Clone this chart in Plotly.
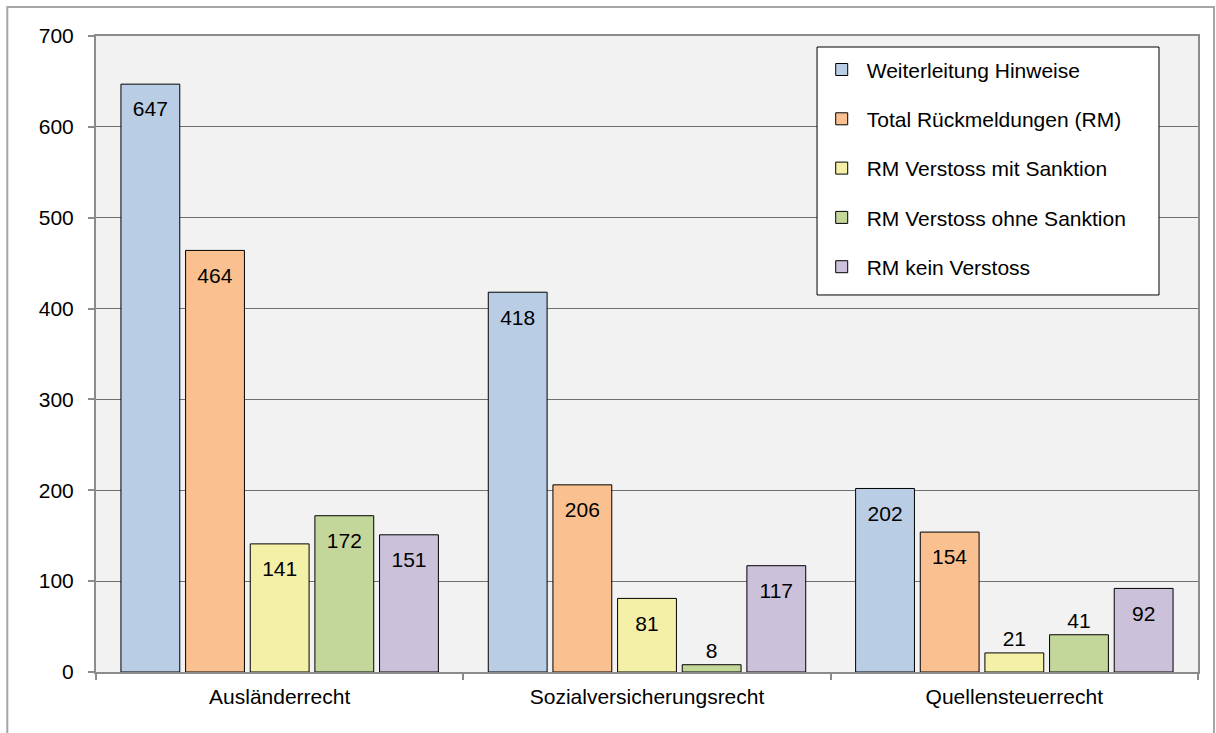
import plotly.graph_objects as go

categories = ["Ausländerrecht", "Sozialversicherungsrecht", "Quellensteuerrecht"]
series_names = ["Weiterleitung Hinweise", "Total Rückmeldungen (RM)", "RM Verstoss mit Sanktion",
                "RM Verstoss ohne Sanktion", "RM kein Verstoss"]
weiterleitung = [647, 418, 202]
total_rm = [464, 206, 154]
mit_sanktion = [141, 81, 21]
ohne_sanktion = [172, 8, 41]
kein_verstoss = [151, 117, 92]
colors = ["#B9CDE5", "#FAC090", "#F5F0A8", "#C4D79B", "#CCC1DA"]
y_ticks = [0, 100, 200, 300, 400, 500, 600, 700]

all_values = [weiterleitung, total_rm, mit_sanktion, ohne_sanktion, kein_verstoss]
FONT = "Arial, Liberation Sans"
FS = 21

fig = go.Figure()
for i, (name, vals, col) in enumerate(zip(series_names, all_values, colors)):
    positions = ["inside" if v >= 60 else "outside" for v in vals]
    texts = [("<span style='font-size:2px'> </span><br>" + str(v)) if v >= 60 else str(v) for v in vals]
    fig.add_trace(go.Bar(
        x=categories, y=vals, name=name,
        marker=dict(color=col, line=dict(color="#000000", width=1)),
        text=texts, textposition=positions,
        insidetextanchor="end",
        textfont=dict(family=FONT, size=FS, color="#000000"),
        constraintext="none",
        cliponaxis=False,
        legendgroup=f"g{i}",
        hoverinfo="skip",
    ))

fig.update_layout(
    width=1216, height=733,
    margin=dict(l=96, r=18, t=36, b=61),
    paper_bgcolor="#FFFFFF",
    plot_bgcolor="#F2F2F2",
    barmode="group",
    bargap=0.12,
    bargroupgap=0.09,
    font=dict(family=FONT, size=FS, color="#000000"),
    showlegend=True,
    legend=dict(
        x=0.654, y=0.979, xanchor="left", yanchor="top",
        bgcolor="rgba(0,0,0,0)", borderwidth=0,
        font=dict(family=FONT, size=FS, color="#000000"),
        tracegroupgap=19,
        itemwidth=40,
    ),
    shapes=[
        dict(type="rect", xref="paper", yref="paper",
             x0=-0.0805, x1=1.0145, y0=-0.2, y1=1.0456,
             line=dict(color="#A6A6A6", width=2), fillcolor="rgba(0,0,0,0)", layer="below"),
        dict(type="rect", xref="paper", yref="paper",
             x0=0.6543, x1=0.9646, y0=0.5928, y1=0.9827,
             line=dict(color="#000000", width=1), fillcolor="#FFFFFF", layer="above"),
    ],
)
fig.update_xaxes(
    showline=True, linecolor="#8C8C8C", linewidth=2, mirror=True,
    ticks="outside", tickson="boundaries", ticklen=6, tickcolor="#8C8C8C", tickwidth=2,
    showgrid=False,
    ticklabelstandoff=5,
    tickfont=dict(family=FONT, size=FS, color="#000000"),
)
fig.update_yaxes(
    range=[0, 700], tickvals=y_ticks,
    showline=True, linecolor="#8C8C8C", linewidth=2, mirror=True,
    ticks="outside", ticklen=6, tickcolor="#8C8C8C", tickwidth=2,
    showgrid=True, gridcolor="#707070", gridwidth=1,
    zeroline=False,
    ticklabelstandoff=10,
    tickfont=dict(family=FONT, size=FS, color="#000000"),
)

fig.write_html("out.html")
